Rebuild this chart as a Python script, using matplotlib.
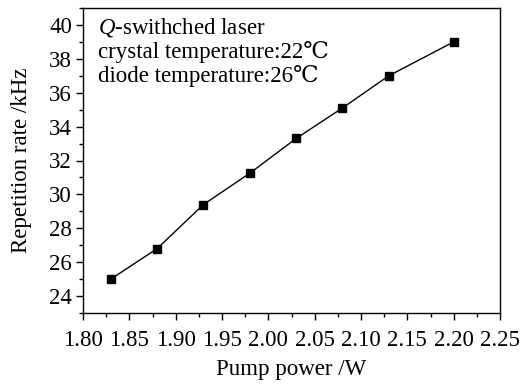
import matplotlib
matplotlib.use("Agg")
import matplotlib.pyplot as plt
from matplotlib.ticker import MultipleLocator
import numpy as np

plt.rcParams['font.family'] = ['Liberation Serif', 'DejaVu Serif']
plt.rcParams['mathtext.fontset'] = 'custom'
plt.rcParams['mathtext.it'] = 'Liberation Serif:italic'

# data
pump_power = [1.83, 1.88, 1.93, 1.98, 2.03, 2.08, 2.13, 2.20]
rep_rate = [25.0, 26.8, 29.4, 31.25, 33.3, 35.1, 37.0, 39.0]

fig = plt.figure(figsize=(5.26, 3.85), dpi=100)
ax = fig.add_axes([83/526, 1 - 313/385, 417/526, 305/385])

ax.plot(pump_power, rep_rate, color='black', lw=1.0, marker='s', ms=5.5)

ax.set_xlim(1.80, 2.25)
ax.set_ylim(23, 41)
ax.xaxis.set_major_locator(MultipleLocator(0.05))
ax.xaxis.set_minor_locator(MultipleLocator(0.025))
ax.yaxis.set_major_locator(MultipleLocator(2))
ax.yaxis.set_minor_locator(MultipleLocator(1))
ax.set_yticks(np.arange(24, 41, 2))
ax.xaxis.set_major_formatter(lambda v, p: f"{v:.2f}")
ax.tick_params(which='both', direction='out', width=1, labelsize=16.5)
ax.tick_params(which='major', length=5)
ax.tick_params(which='minor', length=3)
ax.tick_params(axis='x', pad=7)
ax.tick_params(axis='y', pad=3)
for s in ax.spines.values():
    s.set_linewidth(1)

ax.set_xlabel('Pump power /W', fontsize=16.5, labelpad=6)
ax.set_ylabel('Repetition rate /kHz', fontsize=16.5, labelpad=12)

ax.text(0.035, 0.975, '$Q$-swithched laser\ncrystal temperature:22℃\ndiode temperature:26℃',
        transform=ax.transAxes, ha='left', va='top', fontsize=16.5, linespacing=1.12)

fig.savefig('out.png', dpi=100)
